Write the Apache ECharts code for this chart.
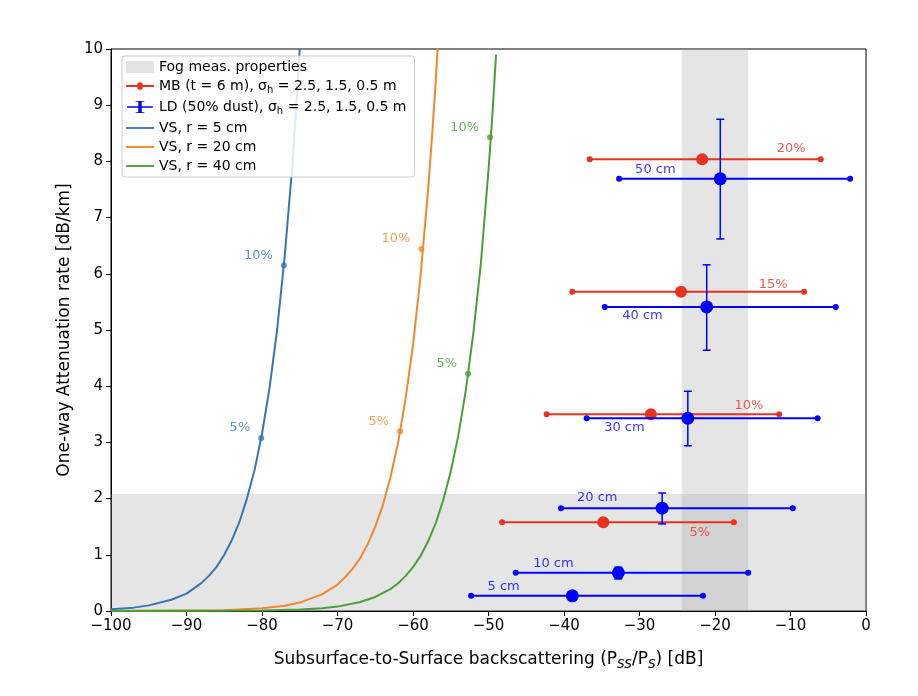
<!DOCTYPE html>
<html lang="en">
<head>
<meta charset="UTF-8">
<title>Attenuation</title>
<script src="https://cdn.jsdelivr.net/npm/echarts@6/dist/echarts.min.js"></script>
<style>body{margin:0}</style>
</head>
<body>
<div id="chart" style="width:918px;height:696px;"></div>
<script>
// curves, values
var vs5 = [[-100,0.03],[-97,0.06],[-95,0.10],[-92,0.2],[-90,0.31],[-88,0.5],[-87,0.63],[-86,0.79],[-85,1.0],[-84,1.26],[-83,1.58],[-82,2.0],[-81,2.5],[-80,3.15],[-79,3.97],[-78,5.0],[-77,6.3],[-76,7.9],[-75.5,8.9],[-75,10.0]];
var vs20 = [[-100,0],[-85,0.015],[-80,0.047],[-77,0.094],[-75,0.15],[-72,0.3],[-70,0.47],[-69,0.6],[-68,0.75],[-67,0.94],[-66,1.19],[-65,1.5],[-64,1.88],[-63,2.37],[-62,2.98],[-61,3.76],[-60,4.73],[-59,5.96],[-58,7.5],[-57.5,8.4],[-57,9.4],[-56.7,10.1]];
var vs40 = [[-100,0],[-80,0.008],[-75,0.025],[-72,0.05],[-70,0.078],[-67,0.16],[-65,0.25],[-63,0.39],[-62,0.49],[-61,0.62],[-60,0.78],[-59,0.98],[-58,1.24],[-57,1.56],[-56,1.97],[-55,2.48],[-54,3.12],[-53,3.93],[-52,4.95],[-51,6.2],[-50,7.85],[-49.5,8.8],[-49,9.9]];
var vs5Marks = [[-80.1,3.08],[-77.1,6.15]];
var vs20Marks = [[-61.7,3.2],[-58.9,6.44]];
var vs40Marks = [[-52.7,4.22],[-49.8,8.43]];
var markNames = ['5%','10%'];

// [x, y, xlo, xhi]
var mb = [[-21.7,8.04,-36.6,-6.0],[-24.5,5.68,-38.9,-8.2],[-28.5,3.5,-42.3,-11.5],[-34.8,1.58,-48.2,-17.5]];
var mbLabels = [['20%',-9.9,8.22],['15%',-12.3,5.8],['10%',-15.5,3.66],['5%',-22,1.39]];
// [x, y, xlo, xhi, ylo, yhi]
var ld = [[-19.3,7.69,-32.7,-2.1,6.62,8.75],[-21.1,5.41,-34.6,-4.0,4.64,6.16],[-23.6,3.43,-37.0,-6.4,2.94,3.91],
          [-27.0,1.83,-40.4,-9.7,1.55,2.1],[-32.8,0.68,-46.4,-15.6,0.57,0.78],[-38.9,0.27,-52.3,-21.6,0.27,0.27]];
var ldLabels = [['50 cm',-27.9,7.85],['40 cm',-29.6,5.25],['30 cm',-32,3.27],['20 cm',-35.6,2.02],['10 cm',-41.4,0.84],['5 cm',-48,0.43]];
var fogY = [0,2.08];
var fogX = [-24.4,-15.6];

var RED = '#e8311f', BLUE = '#0000ff', C5 = '#3a75b0', C20 = '#f0882d', C40 = '#4c9e3a';
var font = 'DejaVu Sans';

function errItem(color, withY, r) {
    return function (params, api) {
        var y = api.value(1);
        var c = api.coord([api.value(0), y]);
        var a = api.coord([api.value(2), y]);
        var b = api.coord([api.value(3), y]);
        var kids = [
            {type:'line', shape:{x1:a[0],y1:a[1],x2:b[0],y2:b[1]}, style:{stroke:color,lineWidth:2}},
            {type:'circle', shape:{cx:a[0],cy:a[1],r:3}, style:{fill:color}},
            {type:'circle', shape:{cx:b[0],cy:b[1],r:3}, style:{fill:color}}
        ];
        if (withY) {
            var p = api.coord([api.value(0), api.value(4)]);
            var q = api.coord([api.value(0), api.value(5)]);
            kids.push({type:'line', shape:{x1:p[0],y1:p[1],x2:q[0],y2:q[1]}, style:{stroke:color,lineWidth:1.5}});
            kids.push({type:'line', shape:{x1:p[0]-4,y1:p[1],x2:p[0]+4,y2:p[1]}, style:{stroke:color,lineWidth:1.5}});
            kids.push({type:'line', shape:{x1:q[0]-4,y1:q[1],x2:q[0]+4,y2:q[1]}, style:{stroke:color,lineWidth:1.5}});
        }
        kids.push({type:'circle', shape:{cx:c[0],cy:c[1],r:r}, style:{fill:color}});
        return {type:'group', children:kids};
    };
}

function labels(list, color) {
    return {type:'scatter', symbolSize:0, silent:true, z:5,
        data: list.map(function (l) { return {value:[l[1],l[2]], name:l[0]}; }),
        label:{show:true, position:'inside', formatter:'{b}', color:color, fontSize:13, fontFamily:font}};
}

function curve(name, data, marks, color) {
    return [{name:name, type:'line', data:data, smooth:false, showSymbol:false, lineStyle:{color:color,width:2}, itemStyle:{color:color}, z:3},
        {type:'scatter', data:marks.map(function (m, i) { return {value:m, name:markNames[i]}; }), symbolSize:6, itemStyle:{color:color}, z:4,
         label:{show:true, position:'left', distance:8, offset:[0,-10], formatter:'{b}', color:color, fontSize:13, fontFamily:font}}];
}

var chart = echarts.init(document.getElementById('chart'));
var rich = {s:{fontSize:10, padding:[8,0,0,0], fontFamily:font}, n:{fontSize:14, fontFamily:font}};
chart.setOption({
    animation:false,
    grid:{left:111, right:52, top:49, bottom:85, show:true, borderColor:'#000', borderWidth:1, backgroundColor:'transparent'},
    legend:{
        left:122, top:56, orient:'vertical', itemGap:5, itemWidth:28, itemHeight:12,
        backgroundColor:'rgba(255,255,255,0.85)', borderColor:'#ccc', borderWidth:1, borderRadius:3, padding:[4,8,4,4],
        textStyle:{fontSize:14, fontFamily:font, color:'#000', rich:rich},
        formatter:function (n) {
            if (n.indexOf('MB') === 0) return '{n|MB (t = 6 m), σ}{s|h}{n| = 2.5, 1.5, 0.5 m}';
            if (n.indexOf('LD') === 0) return '{n|LD (50% dust), σ}{s|h}{n| = 2.5, 1.5, 0.5 m}';
            return '{n|' + n + '}';
        },
        data:[
            {name:'Fog meas. properties', icon:'rect', itemStyle:{color:'#e3e3e3'}},
            {name:'MB', icon:'path://M0,5h12a3,3 0 1,1 6,0h12v2h-12a3,3 0 1,1 -6,0h-12z', itemStyle:{color:RED}},
            {name:'LD', icon:'path://M0,5h13v-5h-3v-1h10v1h-3v5h13v2h-13v5h3v1h-10v-1h3v-5h-13z', itemStyle:{color:BLUE}},
            {name:'VS, r = 5 cm', icon:'path://M0,5h30v2h-30z', itemStyle:{color:C5}},
            {name:'VS, r = 20 cm', icon:'path://M0,5h30v2h-30z', itemStyle:{color:C20}},
            {name:'VS, r = 40 cm', icon:'path://M0,5h30v2h-30z', itemStyle:{color:C40}}
        ]
    },
    xAxis:{type:'value', min:-100, max:0, interval:10,
        name:'Subsurface-to-Surface backscattering (P{s|SS}/P{s|S}) [dB]', nameLocation:'middle', nameGap:38,
        nameTextStyle:{fontSize:17, fontFamily:font, color:'#000', rich:{s:{fontSize:12, padding:[10,0,0,0], fontFamily:font, fontStyle:'italic'}}},
        axisLine:{onZero:false, lineStyle:{color:'#000'}}, axisTick:{inside:false, lineStyle:{color:'#000'}},
        axisLabel:{fontSize:15, fontFamily:font, color:'#000', formatter:function (v) { return String(v).replace('-', '−'); }},
        splitLine:{show:false}},
    yAxis:{type:'value', min:0, max:10, interval:1,
        name:'One-way Attenuation rate [dB/km]', nameLocation:'middle', nameGap:38,
        nameTextStyle:{fontSize:17, fontFamily:font, color:'#000'},
        axisLine:{show:true, onZero:false, lineStyle:{color:'#000'}}, axisTick:{show:true, lineStyle:{color:'#000'}},
        axisLabel:{fontSize:15, fontFamily:font, color:'#000'}, splitLine:{show:false}},
    series:[].concat(
        [{name:'Fog meas. properties', type:'line', data:[], itemStyle:{color:'#e3e3e3'}, z:1,
          markArea:{silent:true, itemStyle:{color:'rgba(160,160,160,0.28)'}, data:[
              [{yAxis:fogY[0], xAxis:-100},{yAxis:fogY[1], xAxis:0}],
              [{xAxis:fogX[0], yAxis:0},{xAxis:fogX[1], yAxis:10}]
          ]}}],
        curve('VS, r = 5 cm', vs5, vs5Marks, C5),
        curve('VS, r = 20 cm', vs20, vs20Marks, C20),
        curve('VS, r = 40 cm', vs40, vs40Marks, C40),
        [{name:'MB', type:'custom', renderItem:errItem(RED,false,6), data:mb, itemStyle:{color:RED}, z:6, encode:{x:[0,2,3], y:1}},
         {name:'LD', type:'custom', renderItem:errItem(BLUE,true,6.5), data:ld, itemStyle:{color:BLUE}, z:7, encode:{x:[0,2,3], y:[1,4,5]}},
         labels(mbLabels, RED), labels(ldLabels, BLUE)]
    )
});
</script>
</body>
</html>
